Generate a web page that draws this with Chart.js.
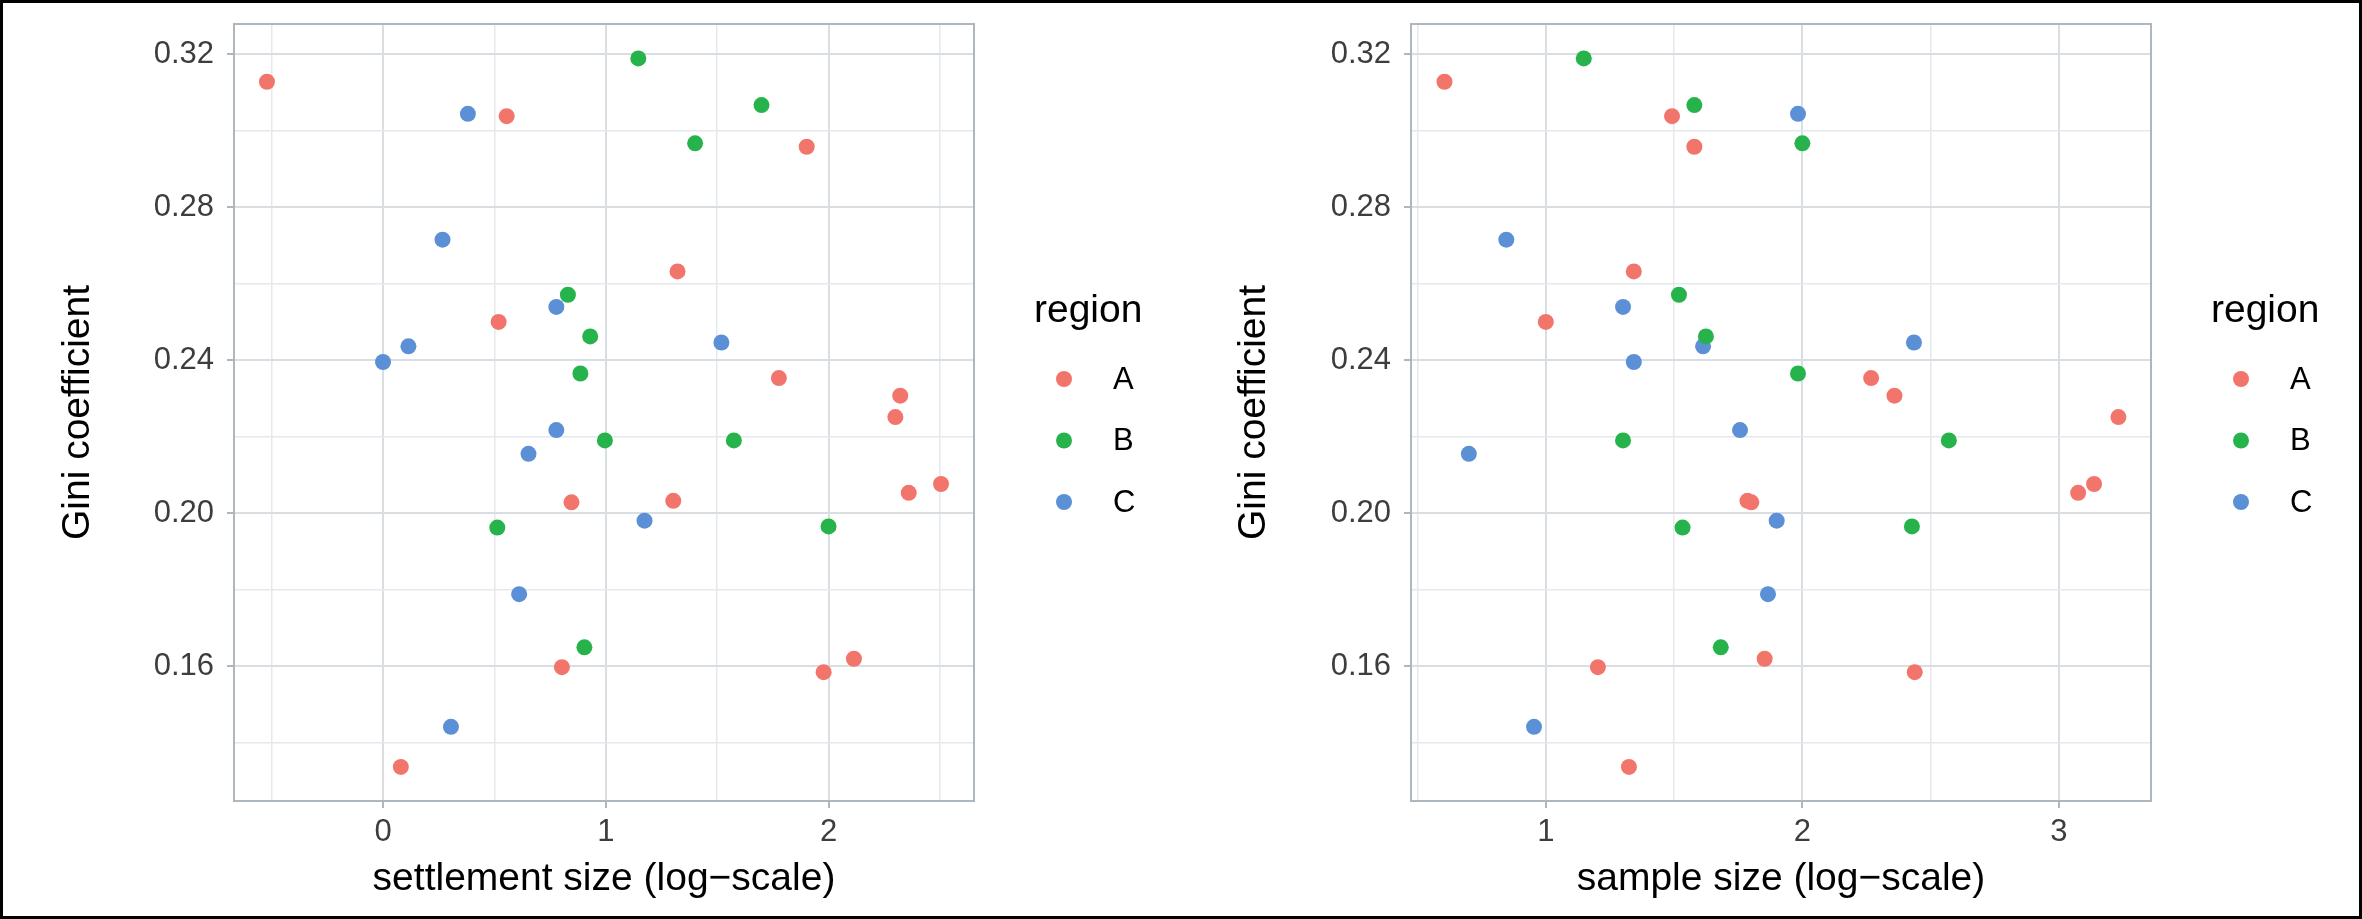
<!DOCTYPE html>
<html>
<head>
<meta charset="utf-8">
<script src="https://cdn.jsdelivr.net/npm/chart.js@4.4.1/dist/chart.umd.min.js"></script>
<style>
html,body{margin:0;padding:0;background:#fff;}
#wrap{position:relative;width:2362px;height:919px;overflow:hidden;background:#fff;}
canvas{position:absolute;top:0;}
#c1{left:0;}
#c2{left:1181px;}
#frame{position:absolute;left:0;top:0;width:2362px;height:919px;box-sizing:border-box;border:3px solid #000;pointer-events:none;}
</style>
</head>
<body>
<div id="wrap">
<canvas id="c1" width="1181" height="919"></canvas>
<canvas id="c2" width="1181" height="919"></canvas>
<div id="frame"></div>
</div>
<script>
// ---------- data ----------
const regions = ['A', 'B', 'C'];
const legendTitle = 'region';
const yTitle = 'Gini coefficient';
const xTitle1 = 'settlement size (log\u2212scale)';
const xTitle2 = 'sample size (log\u2212scale)';

const giniA   = [0.3128, 0.3038, 0.2958, 0.2632, 0.2500, 0.2353, 0.2307, 0.2251, 0.2076, 0.2053, 0.2032, 0.2028, 0.1619, 0.1597, 0.1584, 0.1336];
const settleA = [-0.521, 0.555, 1.902, 1.322, 0.519, 1.777, 2.322, 2.300, 2.505, 2.360, 1.303, 0.846, 2.114, 0.803, 1.978, 0.080];
const sampleA = [0.605, 1.492, 1.579, 1.343, 1.000, 2.268, 2.359, 3.232, 3.137, 3.075, 1.786, 1.801, 1.853, 1.203, 2.438, 1.324];

const giniB   = [0.3189, 0.3067, 0.2967, 0.2571, 0.2462, 0.2365, 0.2190, 0.2190, 0.1965, 0.1962, 0.1649];
const settleB = [1.146, 1.699, 1.401, 0.830, 0.930, 0.886, 0.996, 1.575, 2.000, 0.513, 0.904];
const sampleB = [1.148, 1.579, 2.000, 1.519, 1.624, 1.983, 1.301, 2.571, 2.427, 1.533, 1.682];

const giniC   = [0.3044, 0.2715, 0.2539, 0.2446, 0.2436, 0.2395, 0.2217, 0.2155, 0.1980, 0.1788, 0.1441];
const settleC = [0.381, 0.267, 0.778, 1.519, 0.114, 0.000, 0.778, 0.653, 1.174, 0.611, 0.305];
const sampleC = [1.983, 0.846, 1.301, 2.435, 1.613, 1.343, 1.757, 0.700, 1.900, 1.866, 0.954];

// axis ticks
const yMajor = [0.16, 0.20, 0.24, 0.28, 0.32];
const yMajorLabels = ['0.16', '0.20', '0.24', '0.28', '0.32'];
const yMinor = [0.14, 0.18, 0.22, 0.26, 0.30];
const yMin = 0.1247, yMax = 0.3279;

const x1Major = [0, 1, 2];
const x1MajorLabels = ['0', '1', '2'];
const x1Minor = [-0.5, 0.5, 1.5, 2.5];
const x1Min = -0.669, x1Max = 2.653;

const x2Major = [1, 2, 3];
const x2MajorLabels = ['1', '2', '3'];
const x2Minor = [0.5, 1.5, 2.5];
const x2Min = 0.4745, x2Max = 3.359;

// ---------- styles ----------
const FONT = "'Liberation Sans', Arial, Helvetica, sans-serif";
const COLORS = ['#F2756B', '#27B34B', '#5B8FD6'];
const GRID_MAJOR = '#d9dee3';
const GRID_MINOR = '#e5e8ec';
const BORDER = '#aeb6be';
const TICK_TEXT = '#3d3d3d';

Chart.defaults.font.family = FONT;

function tickSet(major, minor) {
  return major.map(v => ({ value: v, minor: false }))
    .concat(minor.map(v => ({ value: v, minor: true })))
    .sort((a, b) => a.value - b.value);
}
function labelFor(major, labels, value) {
  const i = major.findIndex(m => Math.abs(m - value) < 1e-9);
  return i >= 0 ? labels[i] : '';
}
const isMinor = c => c.tick && c.tick.minor;

const framePlugin = {
  id: 'panelFrame',
  beforeDatasetsDraw(chart) {
    const { ctx, chartArea: a } = chart;
    ctx.save();
    ctx.strokeStyle = BORDER;
    ctx.lineWidth = 2;
    ctx.strokeRect(a.left, a.top, a.right - a.left, a.bottom - a.top);
    ctx.restore();
  }
};

const legendPlugin = {
  id: 'sideLegend',
  afterDraw(chart, args, opts) {
    const { ctx, chartArea: a } = chart;
    ctx.save();
    ctx.fillStyle = '#000';
    ctx.textAlign = 'left';
    ctx.textBaseline = 'alphabetic';
    ctx.font = '39px ' + FONT;
    ctx.fillText(legendTitle, a.right + opts.titleDx, a.top + 298);
    chart.data.datasets.forEach((ds, i) => {
      const y = a.top + 355 + i * 61.5;
      ctx.fillStyle = ds.backgroundColor;
      ctx.beginPath();
      ctx.arc(a.right + opts.dotDx, y, 8, 0, Math.PI * 2);
      ctx.fill();
      ctx.fillStyle = '#000';
      ctx.font = '31px ' + FONT;
      ctx.textBaseline = 'middle';
      ctx.fillText(ds.label, a.right + opts.textDx, y + 1);
    });
    ctx.restore();
  }
};

function makeDatasets(xsList) {
  const ginis = [giniA, giniB, giniC];
  return regions.map((r, k) => ({
    label: r,
    data: ginis[k].map((g, i) => ({ x: xsList[k][i], y: g })),
    backgroundColor: COLORS[k],
    borderWidth: 0,
    pointRadius: 8,
    pointHoverRadius: 8
  }));
}

function makeChart(id, cfg) {
  const W = 1181, H = 919;
  return new Chart(document.getElementById(id), {
    type: 'scatter',
    data: { datasets: makeDatasets(cfg.xs) },
    options: {
      responsive: false,
      animation: false,
      events: [],
      layout: { padding: { left: 0, top: 24, right: W - cfg.areaRight, bottom: 0 } },
      plugins: {
        legend: { display: false },
        tooltip: { enabled: false },
        sideLegend: { titleDx: 60, dotDx: 90, textDx: 139 }
      },
      scales: {
        x: {
          type: 'linear',
          min: cfg.xMin, max: cfg.xMax,
          afterBuildTicks: s => { s.ticks = tickSet(cfg.xMajor, cfg.xMinor); },
          afterFit: s => { s.height = H - 801; s.paddingLeft = 0; s.paddingRight = 0; },
          ticks: {
            autoSkip: false, maxRotation: 0, minRotation: 0,
            padding: 6,
            color: TICK_TEXT,
            font: { size: 31 },
            callback: (v, i, t) => t[i].minor ? '' : labelFor(cfg.xMajor, cfg.xLabels, v)
          },
          grid: {
            color: c => isMinor(c) ? GRID_MINOR : GRID_MAJOR,
            lineWidth: c => isMinor(c) ? 1.5 : 2,
            tickColor: c => isMinor(c) ? 'rgba(0,0,0,0)' : BORDER,
            tickLength: 7,
            drawTicks: true
          },
          border: { display: false },
          title: {
            display: true, text: cfg.xTitle, color: '#000',
            font: { size: 39 }, padding: { top: 0, bottom: 16 }
          }
        },
        y: {
          type: 'linear',
          min: yMin, max: yMax,
          afterBuildTicks: s => { s.ticks = tickSet(yMajor, yMinor); },
          afterFit: s => { s.width = cfg.areaLeft; s.paddingTop = 0; s.paddingBottom = 0; },
          ticks: {
            autoSkip: false,
            padding: 13,
            color: TICK_TEXT,
            font: { size: 31 },
            callback: (v, i, t) => t[i].minor ? '' : labelFor(yMajor, yMajorLabels, v)
          },
          grid: {
            color: c => isMinor(c) ? GRID_MINOR : GRID_MAJOR,
            lineWidth: c => isMinor(c) ? 1.5 : 2,
            tickColor: c => isMinor(c) ? 'rgba(0,0,0,0)' : BORDER,
            tickLength: 7,
            drawTicks: true
          },
          border: { display: false },
          title: {
            display: true, text: yTitle, color: '#000',
            font: { size: 39 }, padding: { top: cfg.yTitlePad, bottom: 0 }
          }
        }
      }
    },
    plugins: [framePlugin, legendPlugin]
  });
}

makeChart('c1', {
  xs: [settleA, settleB, settleC],
  xMin: x1Min, xMax: x1Max, xMajor: x1Major, xMinor: x1Minor, xLabels: x1MajorLabels,
  xTitle: xTitle1, areaLeft: 234, areaRight: 974, yTitlePad: 55
});
makeChart('c2', {
  xs: [sampleA, sampleB, sampleC],
  xMin: x2Min, xMax: x2Max, xMajor: x2Major, xMinor: x2Minor, xLabels: x2MajorLabels,
  xTitle: xTitle2, areaLeft: 230, areaRight: 970, yTitlePad: 50
});
</script>
</body>
</html>
